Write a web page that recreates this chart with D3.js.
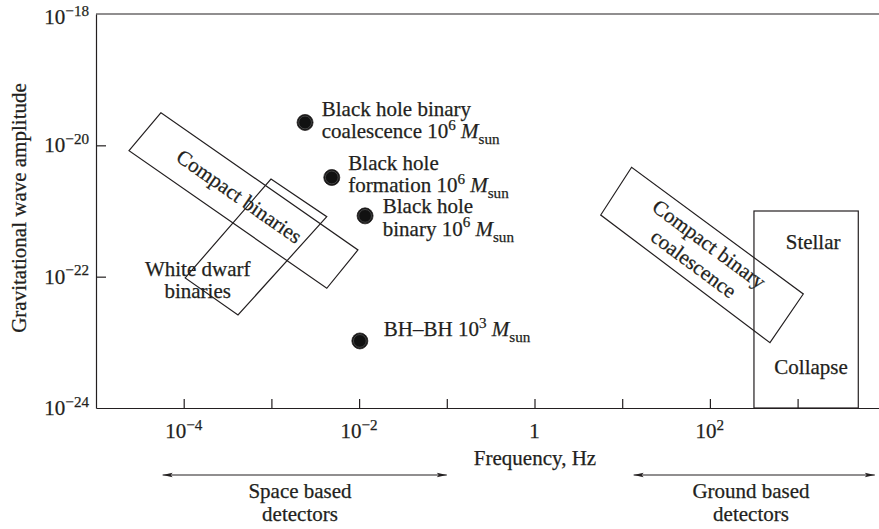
<!DOCTYPE html>
<html><head><meta charset="utf-8">
<script src="https://cdn.jsdelivr.net/npm/d3@7"></script>
<style>
html,body{margin:0;padding:0;background:#fff;overflow:hidden}
svg{display:block}
text{font-family:"Liberation Serif","Times New Roman",serif;fill:#231f20;stroke:#231f20;stroke-width:0.25px}
</style>
</head><body>
<svg id="c" width="879" height="529"></svg>
<script>
// ---------- data ----------
const xDomain = [1e-5, 1e4];          // frequency, Hz
const yDomain = [1e-24, 1e-18];       // gravitational wave amplitude
const xTickValues = [1e-4, 1e-3, 1e-2, 1e-1, 1, 1e1, 1e2, 1e3];
const xTickLabelValues = [1e-4, 1e-2, 1, 1e2];
const xTickLabelBase = ["10", "10", "1", "10"];
const xTickLabelSup = ["−4", "−2", "", "2"];
const yTickValues = [1e-24, 1e-22, 1e-20, 1e-18];
const yTickLabelBase = ["10", "10", "10", "10"];
const yTickLabelSup = ["−24", "−22", "−20", "−18"];

// source regions: corner points [frequency, amplitude]
const compactBinaries = [[5.51e-5, 3.14e-20], [2.38e-5, 8.28e-21], [4.28e-3, 6.65e-23], [9.70e-3, 2.55e-22]];
const whiteDwarfBinaries = [[9.89e-4, 3.07e-21], [4.28e-3, 8.18e-22], [4.16e-4, 2.61e-23], [1.04e-4, 9.55e-23]];
const compactBinaryCoalescence = [[12.8, 4.63e-21], [5.69, 8.69e-22], [484, 9.89e-24], [1161, 5.45e-23]];
const stellarCollapseF = [318, 4920];
const stellarCollapseH = [1e-24, 1e-21];

// point sources
const pointNames = ["bhbc", "bhf", "bhb", "bhbh"];
const pointF = [2.42e-3, 4.88e-3, 1.17e-2, 1.02e-2];
const pointH = [2.23e-20, 3.24e-21, 8.43e-22, 1.05e-23];
const pointLines = [
  [[{t:"Black hole binary"}], [{t:"coalescence 10"}, {t:"6", sup:1}, {t:" "}, {t:"M", it:1}, {t:"sun", sub:1}]],
  [[{t:"Black hole"}], [{t:"formation 10"}, {t:"6", sup:1}, {t:" "}, {t:"M", it:1}, {t:"sun", sub:1}]],
  [[{t:"Black hole"}], [{t:"binary 10"}, {t:"6", sup:1}, {t:" "}, {t:"M", it:1}, {t:"sun", sub:1}]],
  [[{t:"BH–BH 10"}, {t:"3", sup:1}, {t:" "}, {t:"M", it:1}, {t:"sun", sub:1}]]
];

// detector bands
const bandNames = ["Space based", "Ground based"];
const bandF = [[5.75e-5, 0.1], [13.5, 7590]];

// ---------- drawing ----------
const FS = 21;
const svg = d3.select("#c");
const x = d3.scaleLog().domain(xDomain).range([96, 885.3]);
const y = d3.scaleLog().domain(yDomain).range([408, 14]);
const ink = "#231f20";
const lw = 1.2;

const defs = svg.append("defs");
defs.append("marker").attr("id", "ah").attr("viewBox", "0 0 10 6")
  .attr("refX", 10).attr("refY", 3).attr("markerWidth", 11).attr("markerHeight", 6)
  .attr("markerUnits", "userSpaceOnUse").attr("orient", "auto-start-reverse")
  .append("path").attr("d", "M0,0.7 L10,3 L0,5.3 L2,3 z").attr("fill", ink);

// rich text helper
function rich(sel, parts, size) {
  let shift = 0;
  parts.forEach(p => {
    const ts = sel.append("tspan").text(p.t);
    let target = 0, fs = size;
    if (p.sup) { target = -size * 0.4; fs = size * 0.72; }
    if (p.sub) { target = size * 0.28; fs = size * 0.72; }
    ts.attr("font-size", fs);
    if (p.it) ts.attr("font-style", "italic");
    if (target !== shift) { ts.attr("dy", target - shift); shift = target; }
  });
}

// axes
const gx = svg.append("g").attr("transform", "translate(0,408)")
  .call(d3.axisBottom(x).tickValues(xTickValues).tickSizeInner(-9).tickSizeOuter(0).tickFormat(""));
const gy = svg.append("g").attr("transform", "translate(96,0)")
  .call(d3.axisLeft(y).tickValues(yTickValues.slice(1, -1)).tickSizeInner(-10).tickSizeOuter(0).tickFormat(""));
[gx, gy].forEach(g => {
  g.selectAll("path.domain").attr("stroke", ink).attr("stroke-width", lw);
  g.selectAll(".tick line").attr("stroke", ink).attr("stroke-width", lw);
});
svg.append("line").attr("x1", x(xDomain[0])).attr("x2", x(xDomain[1]))
  .attr("y1", y(yDomain[1])).attr("y2", y(yDomain[1])).attr("stroke", ink).attr("stroke-width", lw);

// tick labels
xTickLabelValues.forEach((v, i) => {
  const t = svg.append("text").attr("x", x(v)).attr("y", 438).attr("text-anchor", "middle").attr("font-size", FS);
  const parts = [{t: xTickLabelBase[i]}];
  if (xTickLabelSup[i]) parts.push({t: xTickLabelSup[i], sup: 1});
  rich(t, parts, FS);
});
yTickValues.forEach((v, i) => {
  const t = svg.append("text").attr("x", 89).attr("y", Math.max(y(v), 17) + 7).attr("text-anchor", "end").attr("font-size", FS);
  rich(t, [{t: yTickLabelBase[i]}, {t: yTickLabelSup[i], sup: 1}], FS);
});

// axis titles
svg.append("text").attr("x", 535).attr("y", 465).attr("text-anchor", "middle").attr("font-size", FS).text("Frequency, Hz");
svg.append("text").attr("transform", "translate(26,208) rotate(-90)").attr("text-anchor", "middle")
  .attr("font-size", FS).text("Gravitational wave amplitude");

// regions
const poly = pts => "M" + pts.map(d => [x(d[0]), y(d[1])].join(",")).join("L") + "Z";
[compactBinaries, whiteDwarfBinaries, compactBinaryCoalescence].forEach(r => {
  svg.append("path").attr("d", poly(r)).attr("fill", "none").attr("stroke", ink).attr("stroke-width", lw);
});
svg.append("rect").attr("x", x(stellarCollapseF[0])).attr("y", y(stellarCollapseH[1]))
  .attr("width", x(stellarCollapseF[1]) - x(stellarCollapseF[0]))
  .attr("height", y(stellarCollapseH[0]) - y(stellarCollapseH[1]))
  .attr("fill", "none").attr("stroke", ink).attr("stroke-width", lw);

// rotated labels
function frame(r) {
  const p = r.map(d => [x(d[0]), y(d[1])]);
  const cx = d3.mean(p, d => d[0]), cy = d3.mean(p, d => d[1]);
  const ang = Math.atan2(p[3][1] - p[0][1], p[3][0] - p[0][0]) * 180 / Math.PI;
  return {cx, cy, ang};
}
{
  const f = frame(compactBinaries);
  const g = svg.append("g").attr("transform", `translate(${f.cx},${f.cy}) rotate(${f.ang})`);
  g.append("text").attr("x", -6).attr("y", 0).attr("dy", "0.3em").attr("text-anchor", "middle")
    .attr("font-size", FS).text("Compact binaries");
}
{
  const f = frame(compactBinaryCoalescence);
  const g = svg.append("g").attr("transform", `translate(${f.cx},${f.cy}) rotate(${f.ang})`);
  g.append("text").attr("x", 0).attr("y", -12.4).attr("dy", "0.3em").attr("text-anchor", "middle")
    .attr("font-size", FS).text("Compact binary");
  g.append("text").attr("x", -1).attr("y", 12.4).attr("dy", "0.3em").attr("text-anchor", "middle")
    .attr("font-size", FS).text("coalescence");
}
{
  const lx = x(whiteDwarfBinaries[3][0]) + 12.5, ly = y(whiteDwarfBinaries[3][1]);
  svg.append("text").attr("x", lx).attr("y", ly - 2).attr("text-anchor", "middle").attr("font-size", FS).text("White dwarf");
  svg.append("text").attr("x", lx).attr("y", ly + 20).attr("text-anchor", "middle").attr("font-size", FS).text("binaries");
}
{
  const cx = (x(stellarCollapseF[0]) + x(stellarCollapseF[1])) / 2;
  svg.append("text").attr("x", cx + 7).attr("y", y(stellarCollapseH[1]) + 38).attr("text-anchor", "middle").attr("font-size", FS).text("Stellar");
  svg.append("text").attr("x", cx + 5).attr("y", y(stellarCollapseH[0]) - 34).attr("text-anchor", "middle").attr("font-size", FS).text("Collapse");
}

// point sources
const labelDx = [16.7, 16.6, 17.7, 24];
const labelDy = [-6.6, -7.6, -2.6, -5];
pointF.forEach((f, i) => {
  const px = x(f), py = y(pointH[i]);
  svg.append("circle").attr("cx", px).attr("cy", py).attr("r", 8).attr("fill", "#111").attr("stroke", ink).attr("stroke-width", 0.8);
  svg.append("circle").attr("cx", px).attr("cy", py).attr("r", 6.4).attr("fill", "none").attr("stroke", "#777").attr("stroke-width", 0.5);
  pointLines[i].forEach((line, j) => {
    const t = svg.append("text").attr("x", px + labelDx[i]).attr("y", py + labelDy[i] + j * 22.6).attr("font-size", FS);
    rich(t, line, FS);
  });
});

// detector bands
bandF.forEach((b, i) => {
  svg.append("line").attr("x1", x(b[0])).attr("x2", x(b[1])).attr("y1", 475).attr("y2", 475)
    .attr("stroke", ink).attr("stroke-width", 1.1)
    .attr("marker-start", "url(#ah)").attr("marker-end", "url(#ah)");
  const cx = i === 0 ? 300 : 751;
  svg.append("text").attr("x", cx).attr("y", 498).attr("text-anchor", "middle").attr("font-size", FS).text(bandNames[i]);
  svg.append("text").attr("x", cx).attr("y", 521).attr("text-anchor", "middle").attr("font-size", FS).text("detectors");
});
</script>
</body></html>
